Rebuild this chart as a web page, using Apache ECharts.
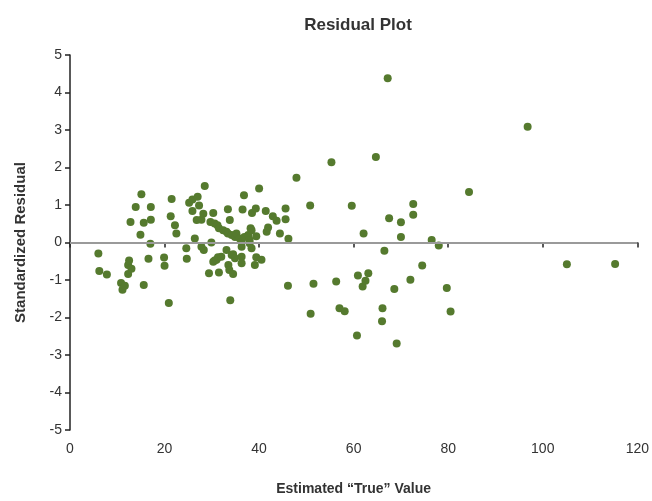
<!DOCTYPE html>
<html>
<head>
<meta charset="utf-8">
<script src="https://cdn.jsdelivr.net/npm/echarts@6/dist/echarts.min.js"></script>
<style>html,body{margin:0;padding:0;background:#fff;}#chart{width:652px;height:501px;}</style>
</head>
<body>
<div id="chart"></div>
<script>
const titleText = 'Residual Plot';
const xAxisName = 'Estimated \u201CTrue\u201D Value';
const yAxisName = 'Standardized Residual';
const estimatedValues = [
  6.0,6.2,7.8,10.8,11.1,11.6,12.3,12.3,12.5,13.0,12.8,13.9,14.9,15.1,15.6,15.6,16.6,17.0,17.1,17.1,19.9,20.0,20.9,21.3,21.5,22.2,22.5,
  24.6,24.7,25.2,25.9,25.9,26.4,26.8,27.0,27.3,27.8,27.8,28.2,28.3,28.5,29.4,29.7,29.9,30.3,30.6,30.3,30.6,31.0,31.3,31.5,31.2,31.5,32.0,32.4,33.1,33.1,33.4,33.4,33.5,33.7,33.8,33.9,34.2,34.2,34.5,34.5,34.9,34.9,35.2,35.9,36.3,36.3,36.3,36.3,36.5,36.8,36.9,37.7,38.0,38.0,38.2,38.4,38.4,38.5,39.1,39.3,39.4,39.4,40.0,40.5,41.4,41.6,41.9,42.9,43.7,44.4,45.6,45.6,46.1,46.2,
  47.9,50.8,50.9,51.5,55.3,56.3,57.0,58.1,59.6,60.7,60.9,61.9,62.1,62.5,63.1,64.7,66.0,66.1,66.5,67.2,67.5,68.6,69.1,70.0,70.0,72.0,72.6,72.6,74.5,76.5,78.0,79.7,80.5,84.4,96.8,105.1,115.3
];
const residuals = [
  -0.29,-0.76,-0.85,-1.08,-1.26,-1.15,-0.84,-0.6,-0.48,-0.7,0.55,0.95,0.21,1.29,0.53,-1.13,-0.43,-0.03,0.95,0.61,-0.4,-0.62,-1.61,0.7,1.16,0.46,0.24,
  -0.15,-0.43,1.06,1.15,0.84,0.11,0.6,1.22,0.99,0.61,-0.11,0.77,-0.2,1.51,-0.82,0.55,0.0,0.79,0.51,-0.51,-0.48,-0.46,-0.39,-0.8,0.46,0.38,-0.38,0.33,0.29,-0.2,0.89,0.24,-0.6,-0.73,0.6,-1.54,0.2,-0.33,-0.84,-0.31,0.15,-0.42,0.24,0.11,0.02,-0.11,-0.38,-0.55,0.88,1.26,0.15,0.2,0.07,-0.02,0.38,0.33,-0.15,0.79,-0.6,0.91,0.17,-0.39,1.44,-0.46,0.84,0.29,0.4,0.7,0.58,0.24,0.91,0.62,-1.15,0.1,
  1.73,0.99,-1.9,-1.1,2.14,-1.04,-1.75,-1.83,0.98,-2.48,-0.88,-1.17,0.24,-1.02,-0.82,2.28,-2.1,-1.75,-0.22,4.38,0.65,-1.24,-2.69,0.54,0.15,-0.99,1.03,0.74,-0.61,0.07,-0.08,-1.21,-1.84,1.35,3.09,-0.58,-0.57
];
const points = estimatedValues.map((x, i) => [x, residuals[i]]);
const font = '"Liberation Sans", sans-serif';
const chart = echarts.init(document.getElementById('chart'));
chart.setOption({
  animation: false,
  backgroundColor: '#fff',
  title: {
    text: titleText, left: 353, top: 12, textAlign: 'center',
    textStyle: { fontFamily: font, fontSize: 17, fontWeight: 'bold', color: '#333' }
  },
  grid: { left: 70, right: 14, top: 55, bottom: 69 },
  xAxis: {
    type: 'value', min: 0, max: 120, interval: 20,
    name: xAxisName, nameLocation: 'middle', nameGap: 52,
    nameTextStyle: { fontFamily: font, fontSize: 14, fontWeight: 'bold', color: '#333' },
    axisLine: { lineStyle: { color: '#222', width: 1.5 } },
    axisTick: { show: true, length: 5, lineStyle: { color: '#222', width: 1.5 } },
    axisLabel: { fontFamily: font, fontSize: 14, color: '#333', margin: 12 },
    splitLine: { show: false }
  },
  yAxis: {
    type: 'value', min: -5, max: 5, interval: 1,
    name: yAxisName, nameLocation: 'middle', nameGap: 42,
    nameTextStyle: { fontFamily: font, fontSize: 15, fontWeight: 'bold', color: '#333' },
    axisLine: { lineStyle: { color: '#222', width: 1.5 } },
    axisTick: { show: true, length: 5, lineStyle: { color: '#222', width: 1.5 } },
    axisLabel: { fontFamily: font, fontSize: 14, color: '#333', margin: 8 },
    splitLine: { show: false }
  },
  series: [{
    type: 'scatter',
    data: points,
    symbolSize: 8,
    itemStyle: { color: '#557a2e', opacity: 1 },
    markLine: {
      silent: true, symbol: 'none', label: { show: false },
      lineStyle: { color: '#9a9a9a', width: 2, type: 'solid' },
      data: [{ yAxis: 0 }]
    },
    z: 3
  }]
});
</script>
</body>
</html>
